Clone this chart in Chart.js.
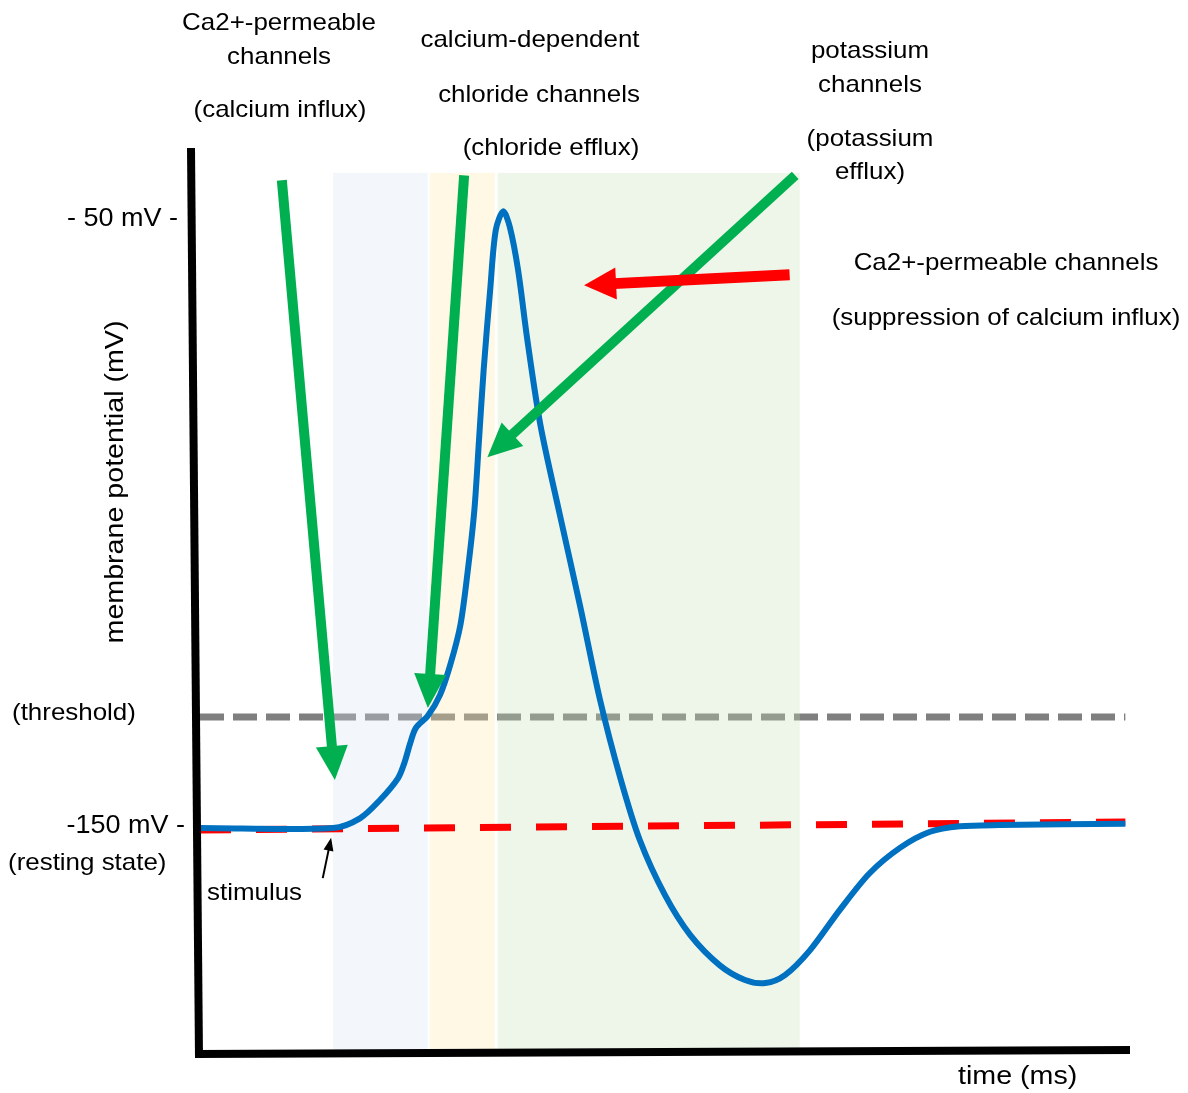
<!DOCTYPE html>
<html>
<head>
<meta charset="utf-8">
<script src="https://cdn.jsdelivr.net/npm/chart.js@4.4.1/dist/chart.umd.min.js"></script>
<style>
  html, body { margin: 0; padding: 0; background: #fff; }
  #wrap { width: 1188px; height: 1093px; position: relative; }
</style>
</head>
<body>
<div id="wrap"><canvas id="apChart" width="1188" height="1093"></canvas></div>
<script>
// time in ms (arbitrary units), membrane potential in mV
const timeMs = [0, 14.3, 17.2, 19.35, 21.3, 22.0, 22.6, 23.2, 24.5, 25.8, 26.9, 28.0, 28.8, 29.5, 30.0, 30.5, 31.2, 31.8, 32.6,
  33.3, 34.2, 35.2, 36.6, 38.7, 40.9, 43.0, 45.2, 47.3, 50.0, 52.7, 55.9, 58.6, 60.8, 62.9, 65.6, 68.8, 72.0, 75.3, 78.5, 81.7, 86.0, 99.5];
const potential = [-150, -150, -148.4, -145.4, -141.8, -139.2, -136.1, -133.6, -131.6, -128.2, -123.3, -116.7, -107.7, -97.9, -86.4, -74.9, -61.8, -52.0, -48.9,
  -51.4, -58.5, -70.0, -83.9, -98.7, -113.8, -128.9, -141.8, -152.0, -161.0, -167.5, -172.5, -174.9, -175.4, -174.1, -170.0, -163.4, -157.4, -153.2, -150.6, -149.7, -149.5, -149.3];

const restingT = [0, 99.5];
const restingV = [-150.3, -149.0];
const thresholdT = [0, 99.5];
const thresholdV = [-131.8, -131.8];

// shaded phases: [start, end] in ms
const phaseNames = ["calcium influx", "chloride efflux", "potassium efflux"];
const phaseRanges = [[14.3, 24.5], [24.7, 31.7], [32.0, 64.5]];
const phaseColors = ["rgba(215,225,242,0.3)", "rgba(252,232,168,0.3)", "rgba(198,225,185,0.3)"];
const phaseTop = -42.6;
const phaseBottom = -186.4;

// arrows: [fromT, fromV, toT, toV]
const greenArrows = [[8.8, -43.8, 14.5, -142.1], [28.4, -43.0, 24.5, -130.3], [64.0, -43.0, 30.9, -89.2]];
const redArrows = [[63.4, -59.3, 41.3, -61.0]];
const stimulusArrow = [13.2, -158.2, 14.1, -151.6];

const labels = [
  ["Ca2+-permeable", 279, 23, "center", 24], ["channels", 279, 57, "center", 24], ["(calcium influx)", 280, 110, "center", 24],
  ["calcium-dependent", 530, 40, "center", 24], ["chloride channels", 539, 95, "center", 24], ["(chloride efflux)", 551, 148, "center", 24],
  ["potassium", 870, 51, "center", 24], ["channels", 870, 85, "center", 24], ["(potassium", 870, 139, "center", 24], ["efflux)", 870, 172, "center", 24],
  ["Ca2+-permeable channels", 1006, 263, "center", 24], ["(suppression of calcium influx)", 1006, 318, "center", 24],
  ["- 50 mV -", 178, 219, "right", 25], ["(threshold)", 12, 713, "left", 24], ["-150 mV -", 185, 826, "right", 25],
  ["(resting state)", 8, 863, "left", 24], ["stimulus", 207, 893, "left", 24], ["time (ms)", 958, 1077, "left", 26.5]
];

function pts(xs, ys) { return xs.map((x, i) => ({ x: x, y: ys[i] })); }

function drawArrow(ctx, x1, y1, x2, y2, color, w, hl, hw) {
  const dx = x2 - x1, dy = y2 - y1;
  const len = Math.hypot(dx, dy);
  const ux = dx / len, uy = dy / len;
  const bx = x2 - ux * hl, by = y2 - uy * hl;
  ctx.strokeStyle = color;
  ctx.fillStyle = color;
  ctx.lineWidth = w;
  ctx.lineCap = "butt";
  ctx.beginPath();
  ctx.moveTo(x1, y1);
  ctx.lineTo(bx + ux * 2, by + uy * 2);
  ctx.stroke();
  ctx.beginPath();
  ctx.moveTo(x2, y2);
  ctx.lineTo(bx - uy * hw / 2, by + ux * hw / 2);
  ctx.lineTo(bx + uy * hw / 2, by - ux * hw / 2);
  ctx.closePath();
  ctx.fill();
}

const decor = {
  id: "decor",
  afterDatasetDraw(chart, args) {
    // shading goes over the threshold line, under the others
    if (args.index !== 2) return;
    const { ctx, scales: { x, y } } = chart;
    ctx.save();
    phaseRanges.forEach((r, i) => {
      ctx.fillStyle = phaseColors[i];
      const x0 = x.getPixelForValue(r[0]), x1 = x.getPixelForValue(r[1]);
      const y0 = y.getPixelForValue(phaseTop), y1 = y.getPixelForValue(phaseBottom);
      ctx.fillRect(x0, y0, x1 - x0, y1 - y0);
    });
    ctx.restore();
  },
  afterDraw(chart) {
    const { ctx, chartArea: a, scales: { x, y } } = chart;
    ctx.save();
    // axes
    ctx.strokeStyle = "#000";
    ctx.lineWidth = 8;
    ctx.lineCap = "butt";
    ctx.beginPath();
    ctx.moveTo(a.left - 9, a.top - 2);
    ctx.lineTo(a.left - 1, a.bottom + 6);
    ctx.stroke();
    ctx.beginPath();
    ctx.moveTo(a.left - 5, a.bottom + 2);
    ctx.lineTo(a.right, a.bottom - 2);
    ctx.stroke();

    greenArrows.forEach(r => drawArrow(ctx, x.getPixelForValue(r[0]), y.getPixelForValue(r[1]),
      x.getPixelForValue(r[2]), y.getPixelForValue(r[3]), "#00b050", 10, 34, 32));
    redArrows.forEach(r => drawArrow(ctx, x.getPixelForValue(r[0]), y.getPixelForValue(r[1]),
      x.getPixelForValue(r[2]), y.getPixelForValue(r[3]), "#ff0000", 11, 32, 32));
    const s = stimulusArrow;
    drawArrow(ctx, x.getPixelForValue(s[0]), y.getPixelForValue(s[1]),
      x.getPixelForValue(s[2]), y.getPixelForValue(s[3]), "#000", 2, 13, 10);

    // text
    ctx.fillStyle = "#000";
    ctx.textBaseline = "middle";
    const sx = 1.08;
    labels.forEach(([t, px, py, al, fs]) => {
      ctx.save();
      ctx.font = fs + "px 'Liberation Sans', Arial, sans-serif";
      ctx.translate(px, py);
      ctx.scale(sx, 1);
      ctx.textAlign = al;
      ctx.fillText(t, 0, 0);
      ctx.restore();
    });
    ctx.save();
    ctx.font = "26.5px 'Liberation Sans', Arial, sans-serif";
    ctx.translate(116, 482);
    ctx.rotate(-Math.PI / 2);
    ctx.scale(sx, 1);
    ctx.textAlign = "center";
    ctx.fillText("membrane potential (mV)", 0, 0);
    ctx.restore();
    ctx.restore();
  }
};

new Chart(document.getElementById("apChart"), {
  type: "line",
  data: {
    datasets: [
      { label: "membrane potential", data: pts(timeMs, potential), borderColor: "#0070c0", borderWidth: 6,
        pointRadius: 0, tension: 0.3, fill: false, order: 1, borderCapStyle: "butt" },
      { label: "resting state", data: pts(restingT, restingV), borderColor: "#ff0000", borderWidth: 7,
        borderDash: [31, 25], pointRadius: 0, fill: false, order: 2 },
      { label: "threshold", data: pts(thresholdT, thresholdV), borderColor: "#7f7f7f", borderWidth: 7,
        borderDash: [24, 9], pointRadius: 0, fill: false, order: 3 }
    ]
  },
  options: {
    responsive: false,
    animation: false,
    layout: { padding: { left: 200, right: 58, top: 150, bottom: 41 } },
    scales: {
      x: { type: "linear", min: 0, max: 100, display: false },
      y: { type: "linear", min: -186.7, max: -38.85, display: false }
    },
    plugins: { legend: { display: false }, tooltip: { enabled: false } }
  },
  plugins: [decor]
});
</script>
</body>
</html>
